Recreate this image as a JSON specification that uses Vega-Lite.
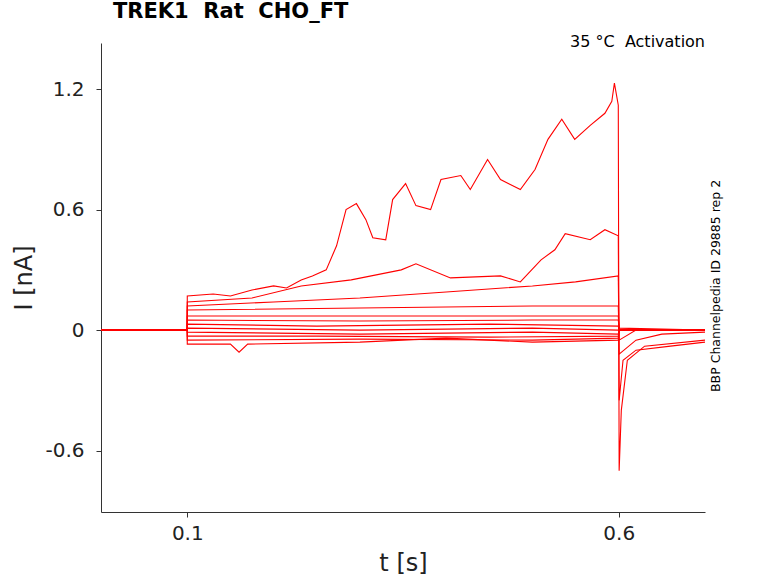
{
  "$schema": "https://vega.github.io/schema/vega-lite/v6.json",
  "width": 604,
  "height": 469,
  "autosize": "none",
  "padding": {"left": 101, "top": 43, "right": 73, "bottom": 71},
  "background": "white",
  "config": {"font": "DejaVu Sans", "view": {"stroke": null}},
  "title": {"text": "TREK1\u00a0\u00a0Rat\u00a0\u00a0CHO_FT", "anchor": "start", "frame": "group", "dx": 12, "fontSize": 21, "fontWeight": "bold", "font": "DejaVu Sans", "offset": 12, "color": "black"},
  "datasets": {
    "traces": [
      {"k": "a", "t": 0, "i": 0}, {"k": "a", "t": 0.0999, "i": 0}, {"k": "a", "t": 0.1, "i": 0.17}, {"k": "a", "t": 0.13, "i": 0.18},
      {"k": "a", "t": 0.15, "i": 0.17}, {"k": "a", "t": 0.175, "i": 0.2}, {"k": "a", "t": 0.2, "i": 0.22}, {"k": "a", "t": 0.215, "i": 0.21},
      {"k": "a", "t": 0.232, "i": 0.25}, {"k": "a", "t": 0.245, "i": 0.27}, {"k": "a", "t": 0.261, "i": 0.3}, {"k": "a", "t": 0.273, "i": 0.42},
      {"k": "a", "t": 0.284, "i": 0.6}, {"k": "a", "t": 0.296, "i": 0.63}, {"k": "a", "t": 0.307, "i": 0.55}, {"k": "a", "t": 0.315, "i": 0.46},
      {"k": "a", "t": 0.33, "i": 0.45}, {"k": "a", "t": 0.338, "i": 0.65}, {"k": "a", "t": 0.353, "i": 0.73}, {"k": "a", "t": 0.365, "i": 0.62},
      {"k": "a", "t": 0.382, "i": 0.6}, {"k": "a", "t": 0.394, "i": 0.75}, {"k": "a", "t": 0.417, "i": 0.77}, {"k": "a", "t": 0.428, "i": 0.7},
      {"k": "a", "t": 0.448, "i": 0.85}, {"k": "a", "t": 0.463, "i": 0.75}, {"k": "a", "t": 0.486, "i": 0.7}, {"k": "a", "t": 0.503, "i": 0.8},
      {"k": "a", "t": 0.518, "i": 0.95}, {"k": "a", "t": 0.534, "i": 1.05}, {"k": "a", "t": 0.549, "i": 0.95}, {"k": "a", "t": 0.567, "i": 1.02},
      {"k": "a", "t": 0.584, "i": 1.08}, {"k": "a", "t": 0.592, "i": 1.14}, {"k": "a", "t": 0.595, "i": 1.23}, {"k": "a", "t": 0.5995, "i": 1.12},
      {"k": "a", "t": 0.6005, "i": -0.7}, {"k": "a", "t": 0.603, "i": -0.4}, {"k": "a", "t": 0.61, "i": -0.15}, {"k": "a", "t": 0.63, "i": -0.08}, {"k": "a", "t": 0.7, "i": -0.05},

      {"k": "b", "t": 0, "i": 0}, {"k": "b", "t": 0.0999, "i": 0}, {"k": "b", "t": 0.1, "i": 0.14}, {"k": "b", "t": 0.175, "i": 0.16},
      {"k": "b", "t": 0.232, "i": 0.22}, {"k": "b", "t": 0.29, "i": 0.25}, {"k": "b", "t": 0.348, "i": 0.3}, {"k": "b", "t": 0.365, "i": 0.33},
      {"k": "b", "t": 0.405, "i": 0.26}, {"k": "b", "t": 0.463, "i": 0.27}, {"k": "b", "t": 0.486, "i": 0.24}, {"k": "b", "t": 0.51, "i": 0.35},
      {"k": "b", "t": 0.526, "i": 0.4}, {"k": "b", "t": 0.538, "i": 0.48}, {"k": "b", "t": 0.567, "i": 0.45}, {"k": "b", "t": 0.584, "i": 0.5},
      {"k": "b", "t": 0.5995, "i": 0.47}, {"k": "b", "t": 0.6005, "i": -0.35}, {"k": "b", "t": 0.605, "i": -0.15}, {"k": "b", "t": 0.62, "i": -0.1},
      {"k": "b", "t": 0.66, "i": -0.08}, {"k": "b", "t": 0.7, "i": -0.06},

      {"k": "c", "t": 0, "i": 0}, {"k": "c", "t": 0.0999, "i": 0}, {"k": "c", "t": 0.1, "i": 0.12}, {"k": "c", "t": 0.2, "i": 0.14},
      {"k": "c", "t": 0.3, "i": 0.16}, {"k": "c", "t": 0.4, "i": 0.19}, {"k": "c", "t": 0.5, "i": 0.22}, {"k": "c", "t": 0.55, "i": 0.24},
      {"k": "c", "t": 0.5995, "i": 0.27}, {"k": "c", "t": 0.6005, "i": -0.12}, {"k": "c", "t": 0.62, "i": -0.05}, {"k": "c", "t": 0.65, "i": -0.02}, {"k": "c", "t": 0.7, "i": -0.01},

      {"k": "d", "t": 0, "i": 0}, {"k": "d", "t": 0.0999, "i": 0}, {"k": "d", "t": 0.1, "i": 0.1}, {"k": "d", "t": 0.3, "i": 0.11},
      {"k": "d", "t": 0.5, "i": 0.12}, {"k": "d", "t": 0.5995, "i": 0.12}, {"k": "d", "t": 0.6005, "i": -0.05}, {"k": "d", "t": 0.62, "i": 0}, {"k": "d", "t": 0.7, "i": 0},

      {"k": "e", "t": 0, "i": 0}, {"k": "e", "t": 0.0999, "i": 0}, {"k": "e", "t": 0.1, "i": 0.07}, {"k": "e", "t": 0.3, "i": 0.07},
      {"k": "e", "t": 0.5, "i": 0.07}, {"k": "e", "t": 0.5995, "i": 0.07}, {"k": "e", "t": 0.6005, "i": 0}, {"k": "e", "t": 0.7, "i": 0},

      {"k": "f", "t": 0, "i": 0}, {"k": "f", "t": 0.0999, "i": 0}, {"k": "f", "t": 0.1, "i": 0.05}, {"k": "f", "t": 0.3, "i": 0.045},
      {"k": "f", "t": 0.5, "i": 0.05}, {"k": "f", "t": 0.5995, "i": 0.05}, {"k": "f", "t": 0.6005, "i": 0.01}, {"k": "f", "t": 0.7, "i": 0},

      {"k": "g", "t": 0, "i": 0}, {"k": "g", "t": 0.0999, "i": 0}, {"k": "g", "t": 0.1, "i": 0.03}, {"k": "g", "t": 0.25, "i": 0.02},
      {"k": "g", "t": 0.45, "i": 0.03}, {"k": "g", "t": 0.5995, "i": 0.02}, {"k": "g", "t": 0.6005, "i": 0}, {"k": "g", "t": 0.7, "i": 0},

      {"k": "h", "t": 0, "i": 0}, {"k": "h", "t": 0.0999, "i": 0}, {"k": "h", "t": 0.1, "i": 0.01}, {"k": "h", "t": 0.3, "i": 0.0},
      {"k": "h", "t": 0.5, "i": 0.01}, {"k": "h", "t": 0.5995, "i": 0.0}, {"k": "h", "t": 0.6005, "i": 0}, {"k": "h", "t": 0.7, "i": 0},

      {"k": "i", "t": 0, "i": 0}, {"k": "i", "t": 0.0999, "i": 0}, {"k": "i", "t": 0.1, "i": -0.01}, {"k": "i", "t": 0.3, "i": -0.02},
      {"k": "i", "t": 0.5, "i": -0.01}, {"k": "i", "t": 0.5995, "i": -0.02}, {"k": "i", "t": 0.6005, "i": 0}, {"k": "i", "t": 0.7, "i": 0},

      {"k": "j", "t": 0, "i": 0}, {"k": "j", "t": 0.0999, "i": 0}, {"k": "j", "t": 0.1, "i": -0.03}, {"k": "j", "t": 0.25, "i": -0.03},
      {"k": "j", "t": 0.45, "i": -0.035}, {"k": "j", "t": 0.5995, "i": -0.03}, {"k": "j", "t": 0.6005, "i": 0}, {"k": "j", "t": 0.7, "i": 0},

      {"k": "l", "t": 0, "i": 0}, {"k": "l", "t": 0.0999, "i": 0}, {"k": "l", "t": 0.1, "i": -0.05}, {"k": "l", "t": 0.3, "i": -0.045},
      {"k": "l", "t": 0.5, "i": -0.05}, {"k": "l", "t": 0.5995, "i": -0.04}, {"k": "l", "t": 0.6005, "i": 0}, {"k": "l", "t": 0.7, "i": 0},

      {"k": "m", "t": 0, "i": 0}, {"k": "m", "t": 0.0999, "i": 0}, {"k": "m", "t": 0.1, "i": -0.07}, {"k": "m", "t": 0.15, "i": -0.07},
      {"k": "m", "t": 0.16, "i": -0.11}, {"k": "m", "t": 0.17, "i": -0.07}, {"k": "m", "t": 0.3, "i": -0.06}, {"k": "m", "t": 0.4, "i": -0.04},
      {"k": "m", "t": 0.5, "i": -0.06}, {"k": "m", "t": 0.5995, "i": -0.05}, {"k": "m", "t": 0.6005, "i": 0}, {"k": "m", "t": 0.7, "i": 0}
    ],
    "notes": [
      {"t": 0.7, "i": 1.43, "txt": "35 °C\u00a0\u00a0Activation", "a": 0},
      {"t": 0.713, "i": 0.22, "txt": "BBP Channelpedia ID 29885 rep 2", "a": 270}
    ]
  },
  "layer": [
    {
      "data": {"name": "traces"},
      "mark": {"type": "line", "color": "#ff0000", "strokeWidth": 1.1, "interpolate": "linear"},
      "encoding": {
        "x": {"field": "t", "type": "quantitative", "scale": {"domain": [0, 0.7], "nice": false, "zero": false},
          "axis": {"values": [0.1, 0.6], "labelExpr": "toString(datum.value)", "title": "t [s]", "titleFontSize": 24, "titleFontWeight": "normal", "labelFontSize": 20, "titlePadding": 8, "domainColor": "#333", "tickColor": "#333", "labelColor": "#222", "titleColor": "#222", "grid": false, "tickSize": 5, "labelPadding": 6, "labelFlush": false}},
        "y": {"field": "i", "type": "quantitative", "scale": {"domain": [-0.906, 1.43], "nice": false, "zero": false},
          "axis": {"values": [-0.6, 0, 0.6, 1.2], "labelExpr": "toString(datum.value)", "title": "I [nA]", "titleFontSize": 24, "titleFontWeight": "normal", "labelFontSize": 20, "titlePadding": 8, "domainColor": "#333", "tickColor": "#333", "labelColor": "#222", "titleColor": "#222", "grid": false, "tickSize": 5, "labelPadding": 12, "labelFlush": false}},
        "detail": {"field": "k"}
      }
    },
    {
      "data": {"name": "notes"},
      "mark": {"type": "text", "align": "right", "baseline": "top", "fontSize": 16, "dy": -9, "color": "black"},
      "transform": [{"filter": "datum.a == 0"}],
      "encoding": {"x": {"field": "t", "type": "quantitative"}, "y": {"field": "i", "type": "quantitative"}, "text": {"field": "txt"}}
    },
    {
      "data": {"name": "notes"},
      "mark": {"type": "text", "align": "center", "baseline": "middle", "fontSize": 12.5, "angle": 270, "color": "black"},
      "transform": [{"filter": "datum.a == 270"}],
      "encoding": {"x": {"field": "t", "type": "quantitative"}, "y": {"field": "i", "type": "quantitative"}, "text": {"field": "txt"}}
    }
  ]
}
